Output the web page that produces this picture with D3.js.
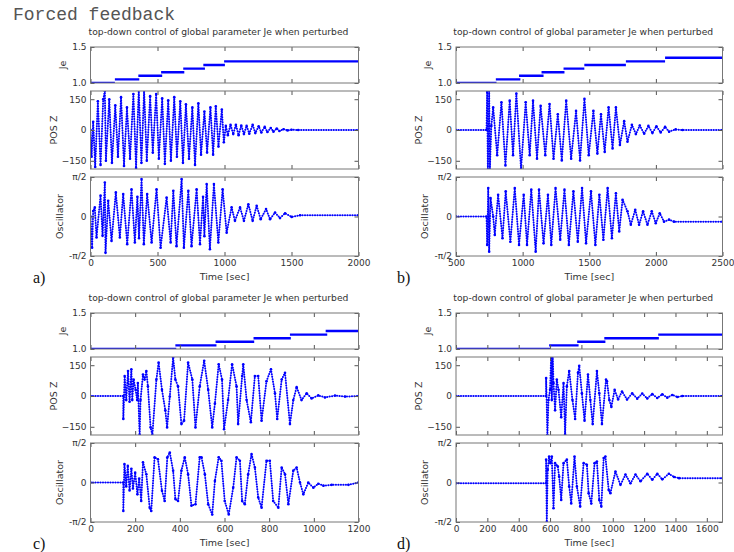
<!DOCTYPE html>
<html><head><meta charset="utf-8">
<script src="https://cdn.jsdelivr.net/npm/d3@7"></script>
<style>body{margin:0;background:#fff}svg{display:block}</style>
</head><body>
<svg id="chart" width="734" height="552"></svg>
<script>
// ---------- DATA ----------
const figureTitle = "Forced feedback";
const chartTitle = "top-down control of global parameter Je when perturbed";
const panelLabels = ["a)", "b)", "c)", "d)"];
const xAxisLabel = "Time [sec]";
const yAxisNames = ["Je", "POS Z", "Oscillator"];

const xDomainA = [0, 2000], xTicksA = [0, 500, 1000, 1500, 2000];
const xDomainB = [500, 2500], xTicksB = [500, 1000, 1500, 2000, 2500];
const xDomainC = [0, 1200], xTicksC = [0, 200, 400, 600, 800, 1000, 1200];
const xDomainD = [0, 1700], xTicksD = [0, 200, 400, 600, 800, 1000, 1200, 1400, 1600];

const jeTicks = [1.0, 1.5], jeTickLabels = ["1.0", "1.5"];
const posTicks = [-150, 0, 150], posTickLabels = ["\u2212150", "0", "150"];
const oscTicks = [-1, 0, 1], oscTickLabels = ["-\u03c0/2", "0", "\u03c0/2"]; // oscillator in units of pi/2

// Je steps: [start, end, value]
const jeStepsA = [[0,182,1.0],[182,364,1.05],[357,535,1.1],[527,700,1.15],[692,854,1.2],[842,1003,1.25],[997,2000,1.3]];
const jeStepsB = [[500,804,1.0],[799,983,1.05],[973,1157,1.1],[1142,1314,1.15],[1307,1463,1.2],[1463,1775,1.25],[1775,2069,1.3],[2069,2500,1.35]];
const jeStepsC = [[0,384,1.0],[380,564,1.05],[560,733,1.1],[730,897,1.15],[893,1060,1.2],[1053,1200,1.25]];
const jeStepsD = [[0,600,1.0],[594,782,1.05],[773,953,1.1],[946,1294,1.15],[1290,1700,1.2]];

// POS Z extrema [time, value]
const posZA = [[0,0],[8,-130],[20,40],[35,-180],[55,140],[75,-170],[95,150],[107,190],[115,-150],[140,150],[160,-160],[185,120],[205,-130],[228,160],[250,-175],[272,110],[295,-140],[320,175],[340,-185],[360,195],[380,-160],[400,195],[420,-150],[445,165],[465,-110],[490,175],[510,-140],[535,155],[555,-165],[580,145],[600,-150],[625,160],[645,-130],[670,140],[690,-160],[712,125],[735,-140],[760,110],[780,-170],[805,130],[825,-120],[850,90],[870,-110],[895,110],[915,-120],[935,115],[955,-80],[980,100],[995,-60],[1010,20],[1025,-25],[1045,25],[1065,-20],[1085,25],[1105,-25],[1125,22],[1145,-20],[1165,20],[1185,-18],[1210,25],[1230,-15],[1255,18],[1275,-12],[1300,15],[1320,-10],[1345,10],[1365,-8],[1390,7],[1410,-5],[1440,4],[1470,-2],[1500,1],[1550,0],[2000,0]];
const posZB = [[500,0],[729,0],[734,185],[739,-195],[749,195],[754,-195],[765,20],[779,110],[809,-123],[841,135],[871,-173],[903,143],[928,-123],[953,177],[988,-190],[1023,135],[1053,-123],[1078,143],[1108,-140],[1135,118],[1170,-123],[1202,127],[1232,-140],[1264,77],[1294,-148],[1327,143],[1364,-140],[1401,93],[1431,-148],[1464,152],[1496,-123],[1531,93],[1561,-115],[1588,77],[1616,-107],[1645,110],[1675,-90],[1700,110],[1730,-73],[1762,43],[1787,-57],[1820,25],[1850,-20],[1879,22],[1912,-18],[1944,20],[1974,-15],[2004,18],[2036,-12],[2069,15],[2099,-8],[2148,3],[2200,0],[2500,0]];
const posZC = [[0,0],[147,0],[147,-112],[153,97],[160,-20],[168,122],[175,-28],[183,130],[187,-20],[193,80],[202,30],[209,-20],[212,63],[220,-190],[224,-20],[235,105],[242,80],[250,122],[257,47],[269,-153],[277,-190],[295,80],[305,163],[320,30],[335,-70],[343,-153],[355,-3],[370,188],[380,80],[392,47],[407,-137],[419,-120],[437,163],[456,80],[470,-153],[489,47],[509,172],[527,30],[545,-153],[557,-37],[574,155],[589,80],[598,-162],[616,-20],[634,155],[654,47],[661,-137],[679,97],[684,155],[699,-20],[718,-128],[736,97],[751,97],[766,-120],[788,72],[808,130],[826,13],[836,-112],[856,80],[871,113],[893,-137],[908,-20],[923,43],[945,-20],[968,13],[990,-12],[1020,3],[1050,-7],[1095,2],[1140,-3],[1200,0]];
const posZD = [[0,0],[575,0],[575,88],[583,-190],[590,-20],[600,30],[607,197],[611,-20],[617,197],[622,63],[632,-70],[643,80],[654,30],[671,-103],[686,63],[696,-187],[707,47],[722,122],[743,-20],[760,-112],[778,113],[786,147],[803,13],[820,-120],[842,105],[857,-20],[872,-137],[899,122],[914,13],[931,-137],[957,80],[963,72],[978,-20],[991,-53],[1012,30],[1034,-17],[1059,22],[1091,-17],[1124,13],[1156,-13],[1188,12],[1220,-12],[1252,10],[1284,-10],[1316,8],[1348,-8],[1380,5],[1412,-5],[1444,0],[1700,0]];

// Oscillator extrema [time, value in units of pi/2]
const oscA = [[0,0],[12,-0.79],[20,0.14],[32,0.23],[45,-0.53],[75,0.53],[90,-0.49],[107,0.86],[112,-0.92],[132,0.4],[157,-0.62],[189,0.61],[219,-0.53],[244,0.57],[274,-0.7],[306,0.69],[331,-0.66],[350,0.5],[362,-0.55],[381,0.95],[398,-0.7],[423,0.57],[456,-0.66],[493,0.69],[523,-0.79],[568,0.48],[598,-0.66],[618,0.65],[642,-0.75],[680,0.95],[697,-0.79],[730,0.65],[754,-0.75],[792,0.69],[817,-0.7],[840,0.5],[850,-0.5],[867,0.82],[891,-0.83],[921,0.82],[954,-0.66],[986,0.69],[1016,-0.41],[1053,0.23],[1078,-0.11],[1116,0.23],[1145,-0.11],[1178,0.31],[1210,-0.11],[1240,0.27],[1270,-0.07],[1310,0.19],[1340,-0.07],[1377,0.1],[1414,-0.04],[1452,0.08],[1501,-0.01],[1564,0.03],[2000,0.03]];
const oscB = [[500,0],[729,0],[734,-0.72],[742,0.72],[749,-0.89],[759,0.47],[779,0.0],[791,-0.47],[816,0.55],[849,-0.55],[873,0.64],[908,-0.64],[941,0.72],[973,-0.72],[1008,0.55],[1033,-0.72],[1065,0.68],[1098,-0.89],[1123,0.68],[1157,-0.68],[1190,0.55],[1215,-0.72],[1247,0.72],[1282,-0.59],[1314,0.68],[1347,-0.72],[1381,0.64],[1414,-0.64],[1446,0.72],[1476,-0.68],[1513,0.64],[1546,-0.72],[1576,0.55],[1606,-0.59],[1638,0.72],[1670,-0.55],[1700,0.59],[1725,-0.38],[1750,0.42],[1787,0.13],[1812,-0.21],[1845,0.17],[1874,-0.21],[1904,0.13],[1937,-0.21],[1969,0.13],[1999,-0.17],[2029,0.08],[2061,-0.13],[2099,-0.08],[2136,-0.13],[2500,-0.13]];
const oscC = [[0,0],[147,0],[147,-0.72],[152,0.47],[160,-0.1],[167,0.42],[175,-0.2],[183,0.35],[190,-0.15],[200,0.25],[210,-0.3],[218,0.1],[227,-0.47],[235,0.51],[250,0.21],[265,-0.64],[272,-0.72],[287,0.64],[302,0.59],[320,-0.21],[332,-0.47],[344,0.64],[355,0.76],[370,0.3],[380,-0.42],[392,-0.47],[407,0.3],[422,0.64],[437,0.21],[452,-0.59],[470,-0.55],[489,0.64],[497,0.64],[512,0.21],[527,-0.55],[545,-0.81],[557,0.04],[574,0.64],[586,0.55],[601,-0.47],[619,-0.81],[639,-0.13],[654,0.64],[669,0.55],[679,-0.47],[691,-0.55],[706,0.21],[721,0.72],[736,0.38],[751,-0.38],[766,-0.64],[788,0.55],[803,0.55],[818,-0.47],[841,-0.64],[856,0.38],[871,0.21],[886,-0.55],[908,0.3],[923,0.38],[938,0.0],[953,-0.3],[975,0.0],[998,-0.13],[1020,-0.03],[1043,-0.08],[1080,-0.06],[1155,-0.06],[1200,0.0]];
const oscD = [[0,-0.02],[575,-0.02],[575,0.58],[579,-1.0],[585,0.32],[594,0.66],[602,0.49],[611,0.66],[622,-0.65],[632,0.49],[649,0.41],[658,0.15],[671,-0.44],[686,0.49],[707,0.58],[722,-0.1],[735,-0.53],[756,0.66],[771,-0.1],[792,-0.61],[814,0.49],[835,0.45],[846,-0.27],[863,-0.53],[884,0.49],[899,0.53],[914,-0.44],[927,-0.61],[942,0.62],[953,0.66],[974,-0.19],[985,-0.27],[1017,0.28],[1049,-0.06],[1081,0.2],[1113,-0.02],[1145,0.2],[1177,0.03],[1220,0.22],[1252,0.07],[1284,0.22],[1316,0.08],[1358,0.22],[1391,0.14],[1423,0.11],[1700,0.11]];

// ---------- LAYOUT ----------
const panels = [
  {label: panelLabels[0], col: 0, row: 0, xDomain: xDomainA, xTicks: xTicksA, je: jeStepsA, pos: posZA, osc: oscA},
  {label: panelLabels[1], col: 1, row: 0, xDomain: xDomainB, xTicks: xTicksB, je: jeStepsB, pos: posZB, osc: oscB},
  {label: panelLabels[2], col: 0, row: 1, xDomain: xDomainC, xTicks: xTicksC, je: jeStepsC, pos: posZC, osc: oscC},
  {label: panelLabels[3], col: 1, row: 1, xDomain: xDomainD, xTicks: xTicksD, je: jeStepsD, pos: posZD, osc: oscD}
];
const COLX = [[90.5, 358.5], [456, 722.5]];
const ROWY = [47, 313];
const LABX = [33, 397];
const SUBS = [
  {key: "je", y0: 0, y1: 36, domain: [1.0, 1.5], ticks: jeTicks, labels: jeTickLabels, name: yAxisNames[0], labDx: -25},
  {key: "pos", y0: 44, y1: 122, domain: [-190, 190], ticks: posTicks, labels: posTickLabels, name: yAxisNames[1], labDx: -34},
  {key: "osc", y0: 130, y1: 209, domain: [-1, 1], ticks: oscTicks, labels: oscTickLabels, name: yAxisNames[2], labDx: -28}
];
const FONT = "'DejaVu Sans', sans-serif";
const BLUE = "#0000ff";

const svg = d3.select("#chart");
const defs = svg.append("defs");

svg.append("text").attr("x", 13).attr("y", 20)
  .attr("font-family", "'Liberation Mono', 'Courier New', monospace").attr("font-size", 18)
  .attr("fill", "#555").text(figureTitle);

panels.forEach((p, i) => {
  const [x0, x1] = COLX[p.col];
  const top = ROWY[p.row];
  const x = d3.scaleLinear().domain(p.xDomain).range([x0, x1]);
  const g = svg.append("g");

  g.append("text").attr("x", (x0 + x1) / 2 - 6).attr("y", top - 12)
    .attr("text-anchor", "middle").attr("font-family", FONT).attr("font-size", 9.2)
    .attr("fill", "#333").text(chartTitle);

  SUBS.forEach(s => {
    const yA = top + s.y0, yB = top + s.y1;
    const y = d3.scaleLinear().domain(s.domain).range([yB, yA]);
    const clipId = `clip-${i}-${s.key}`;
    defs.append("clipPath").attr("id", clipId).append("rect")
      .attr("x", x0).attr("y", yA).attr("width", x1 - x0).attr("height", yB - yA);
    const plot = g.append("g").attr("clip-path", `url(#${clipId})`);

    if (s.key === "je") {
      plot.selectAll("line").data(p.je).join("line")
        .attr("x1", d => x(d[0])).attr("x2", d => x(d[1]))
        .attr("y1", d => y(d[2])).attr("y2", d => y(d[2]))
        .attr("stroke", BLUE).attr("stroke-width", 2.4);
    } else {
      const data = p[s.key];
      const line = d3.line().x(d => x(d[0])).y(d => y(d[1]));
      plot.append("path").attr("d", line(data)).attr("fill", "none")
        .attr("stroke", BLUE).attr("stroke-width", 0.8).attr("stroke-opacity", 0.6);
      plot.append("path").attr("d", line(data)).attr("fill", "none")
        .attr("stroke", BLUE).attr("stroke-width", 2).attr("stroke-linecap", "round")
        .attr("stroke-dasharray", "0 2.5");
      plot.selectAll("circle").data(data).join("circle")
        .attr("cx", d => x(d[0])).attr("cy", d => y(d[1])).attr("r", 1.3).attr("fill", BLUE);
    }

    // ticks (inward on all four sides)
    const tickStyle = sel => {
      sel.select(".domain").remove();
      sel.selectAll(".tick line").attr("stroke", "#555");
      sel.selectAll(".tick text").attr("fill", "#333").attr("font-family", FONT).attr("font-size", 9);
    };
    g.append("g").attr("transform", `translate(${x0},0)`)
      .call(d3.axisLeft(y).tickValues(s.ticks).tickFormat((d, k) => s.labels[k]).tickSize(-4).tickPadding(4))
      .call(tickStyle);
    g.append("g").attr("transform", `translate(${x1},0)`)
      .call(d3.axisRight(y).tickValues(s.ticks).tickFormat("").tickSize(-4))
      .call(tickStyle);
    g.append("g").attr("transform", `translate(0,${yB})`)
      .call(d3.axisBottom(x).tickValues(p.xTicks).tickFormat(s.key === "osc" ? d3.format("d") : "").tickSize(-4).tickPadding(4))
      .call(tickStyle);
    g.append("g").attr("transform", `translate(0,${yA})`)
      .call(d3.axisTop(x).tickValues(p.xTicks).tickFormat("").tickSize(-4))
      .call(tickStyle);

    g.append("rect").attr("x", x0).attr("y", yA).attr("width", x1 - x0).attr("height", yB - yA)
      .attr("fill", "none").attr("stroke", "#777").attr("stroke-width", 1);

    g.append("text").attr("transform", `translate(${x0 + s.labDx},${(yA + yB) / 2}) rotate(-90)`)
      .attr("text-anchor", "middle").attr("font-family", FONT).attr("font-size", 9.5)
      .attr("fill", "#333").text(s.name);

    if (s.key === "osc") {
      g.append("text").attr("x", (x0 + x1) / 2).attr("y", yB + 24)
        .attr("text-anchor", "middle").attr("font-family", FONT).attr("font-size", 9.5)
        .attr("fill", "#333").text(xAxisLabel);
      g.append("text").attr("x", LABX[p.col]).attr("y", yB + 27)
        .attr("font-family", "'Liberation Serif', 'Times New Roman', serif").attr("font-size", 16)
        .attr("fill", "#111").text(p.label);
    }
  });
});
</script>
</body></html>
